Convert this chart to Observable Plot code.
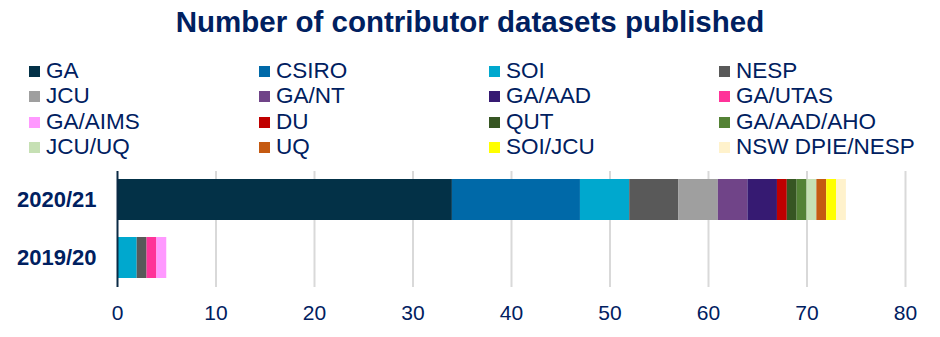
<!DOCTYPE html>
<html><head><meta charset="utf-8">
<script src="https://cdn.jsdelivr.net/npm/d3@7"></script>
<script src="https://cdn.jsdelivr.net/npm/@observablehq/plot@0.6"></script>
<style>
body{margin:0;background:#fff;font-family:"Liberation Sans",Arial,sans-serif;}
#wrap{position:relative;width:940px;height:337px;overflow:hidden;}
#title{position:absolute;left:0;top:4px;width:940px;text-align:center;font-weight:bold;font-size:29.5px;color:#002060;line-height:36px;}
#legend{position:absolute;left:29px;top:58px;}
.item{position:absolute;white-space:nowrap;font-size:22.5px;color:#002060;line-height:25px;}
.sw{display:inline-block;width:11px;height:11px;margin-right:6px;vertical-align:1px;}
#chart{position:absolute;left:0;top:160px;}
</style></head>
<body><div id="wrap"><div id="title">Number of contributor datasets published</div><div id="legend"></div><div id="chart"></div></div>
<script>
const years = ["2020/21", "2019/20"];
const contributors = ["GA","CSIRO","SOI","NESP","JCU","GA/NT","GA/AAD","GA/UTAS","GA/AIMS","DU","QUT","GA/AAD/AHO","JCU/UQ","UQ","SOI/JCU","NSW DPIE/NESP"];
const colors = ["#033147","#0069A8","#00A8CE","#595959","#9F9F9F","#704488","#361A72","#FF3399","#FF99FF","#C00000","#375623","#548235","#C6E0B4","#C55A11","#FFFF00","#FFF2CC"];
const values2021 = [34,13,5,5,4,3,3,0,0,1,1,1,1,1,1,1];
const values1920 = [0,0,2,1,0,0,0,1,1,0,0,0,0,0,0,0];
const xTicks = [0,10,20,30,40,50,60,70,80];

const data = [];
contributors.forEach((c,i)=>{
  data.push({year:years[0], who:c, n:values2021[i]});
  data.push({year:years[1], who:c, n:values1920[i]});
});

const leg = document.getElementById("legend");
contributors.forEach((c,i)=>{
  const d = document.createElement("div");
  d.className="item";
  d.style.left = (i%4)*230 + "px";
  d.style.top = Math.floor(i/4)*25.3 + "px";
  d.innerHTML = `<span class="sw" style="background:${colors[i]}"></span>${c}`;
  leg.appendChild(d);
});

const plot = Plot.plot({
  width: 940, height: 177,
  marginLeft: 117, marginRight: 35, marginTop: 11, marginBottom: 50,
  style: {fontFamily: '"Liberation Sans",Arial,sans-serif', color: "#002060", background: "transparent"},
  x: {domain: [0,80], ticks: xTicks, label: null},
  y: {domain: years, paddingInner: 0.29, paddingOuter: 0.14, label: null},
  color: {domain: contributors, range: colors},
  marks: [
    Plot.ruleX(xTicks.filter(t=>t>0), {stroke:"#d9d9d9", strokeWidth:2}),
    Plot.barX(data, {x:"n", y:"year", fill:"who", order: contributors, inset:0}),
    Plot.ruleX([0], {stroke:"#0b2a45", strokeWidth:2}),
    Plot.axisX({ticks: xTicks, tickSize:0, tickPadding:18, fontSize:21, fill:"#002060"}),
    Plot.axisY({tickSize:0, tickPadding:21, fontSize:22, fontWeight:"bold", fill:"#002060"})
  ]
});
document.getElementById("chart").appendChild(plot);
</script></body></html>
